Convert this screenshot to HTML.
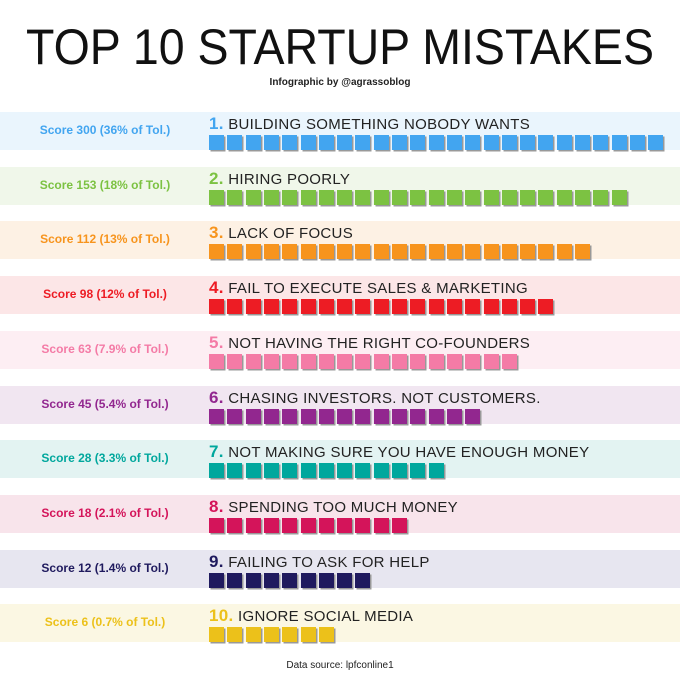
<!DOCTYPE html>
<html><head><meta charset="utf-8"><style>
body{margin:0;width:680px;height:680px;background:#fff;position:relative;overflow:hidden;font-family:"Liberation Sans",sans-serif}
.t{position:absolute;left:0;width:680px;text-align:center}
.band{position:absolute;left:0;width:680px;height:38px}
.sc{position:absolute;left:0;width:210px;text-align:center;top:11px;font-size:12px;font-weight:bold}
.lab{position:absolute;left:209px;top:2px;font-size:15px;color:#222;letter-spacing:0.3px;white-space:nowrap}
.lab b{font-size:17px}
.sq{position:absolute;top:23px;width:15px;height:15px;box-shadow:1.5px 1.5px 0 #999}
</style></head><body>
<div class="t" style="top:18px;font-size:50px;color:#111;transform:scaleX(0.93)">TOP 10 STARTUP MISTAKES</div>
<div class="t" style="top:77px;font-size:10px;font-weight:bold;color:#222">Infographic by @agrassoblog</div>
<div id="rows"></div>
<div class="t" style="top:660px;font-size:10px;color:#222">Data source: lpfconline1</div>
<script>
var d=[["Score 300 (36% of Tol.)","BUILDING SOMETHING NOBODY WANTS",25,"#42a5f0","#eaf5fd"],
["Score 153 (18% of Tol.)","HIRING POORLY",23,"#7cc242","#f0f7ea"],
["Score 112 (13% of Tol.)","LACK OF FOCUS",21,"#f7941d","#fdf1e4"],
["Score 98 (12% of Tol.)","FAIL TO EXECUTE SALES &amp; MARKETING",19,"#ed1c24","#fce6e7"],
["Score 63 (7.9% of Tol.)","NOT HAVING THE RIGHT CO-FOUNDERS",17,"#f47ba6","#fdeef3"],
["Score 45 (5.4% of Tol.)","CHASING INVESTORS. NOT CUSTOMERS.",15,"#92278f","#f1e6f1"],
["Score 28 (3.3% of Tol.)","NOT MAKING SURE YOU HAVE ENOUGH MONEY",13,"#00a79d","#e3f3f2"],
["Score 18 (2.1% of Tol.)","SPENDING TOO MUCH MONEY",11,"#d4145a","#f8e4eb"],
["Score 12 (1.4% of Tol.)","FAILING TO ASK FOR HELP",9,"#1f1a5e","#e7e6f0"],
["Score 6 (0.7% of Tol.)","IGNORE SOCIAL MEDIA",7,"#ecc11a","#fbf7e3"]];
var h="";
d.forEach(function(r,i){
 var y=112+i*54.7;
 h+='<div class="band" style="top:'+y+'px;background:'+r[4]+'"><div class="sc" style="color:'+r[3]+'">'+r[0]+'</div><div class="lab"><b style="color:'+r[3]+'">'+(i+1)+'.</b> '+r[1]+'</div>';
 for(var k=0;k<r[2];k++)h+='<div class="sq" style="left:'+(209+k*18.3)+'px;background:'+r[3]+'"></div>';
 h+='</div>';
});
document.getElementById("rows").innerHTML=h;
</script>
</body></html>
